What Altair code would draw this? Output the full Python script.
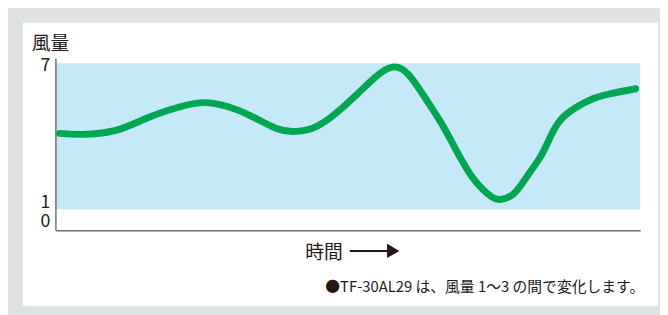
import altair as alt
import pandas as pd

# ---- data ----
time_pts = [0.7, 4.6, 10.3, 15.9, 21.5, 25.5, 29.4, 33.3, 37.8, 41.2, 44.6, 48.0,
            51.4, 54.7, 57.6, 60.3, 63.2, 66.0, 68.8, 71.6, 74.5, 76.2, 78.4,
            80.6, 82.9, 84.6, 86.3, 89.0, 91.9, 94.8, 99.2]
wind = [4.12, 4.08, 4.24, 4.77, 5.22, 5.38, 5.22, 4.85, 4.32, 4.20, 4.40, 4.95,
        5.68, 6.43, 6.84, 6.55, 5.58, 4.53, 3.31, 2.22, 1.53, 1.41, 1.65,
        2.34, 3.15, 3.96, 4.65, 5.18, 5.54, 5.74, 5.95]
band_low = [1]
band_high = [7]
y_tick_labels = ["0", "1", "7"]
y_tick_pos = [0.27, 1.04, 6.67]
y_title = "風量"
x_title = "時間"
note = "●TF-30AL29 は、風量 1〜3 の間で変化します。"

FONT = "Noto Sans CJK JP"
TXT = "#231815"
GREEN = "#00a651"
BLUE = "#c6e9f9"
GRAY = "#dfe3e0"
AXIS = "#707070"

xs = alt.Scale(domain=[0, 100], nice=False, zero=False)
ys = alt.Scale(domain=[0.15, 7.2], nice=False, zero=False)
ax = alt.Axis(labels=False, ticks=False, title=None, grid=False,
              domainColor=AXIS, domainWidth=1.5, zindex=1)

one = pd.DataFrame({"k": [0]})

panel = alt.Chart(one).mark_rect(color="white").encode(
    x=alt.value(-33), x2=alt.value(610), y=alt.value(-36), y2=alt.value(251)
)

band_df = pd.DataFrame({"x0": [0], "x1": [100], "lo": band_low, "hi": band_high})
band = alt.Chart(band_df).mark_rect(color=BLUE).encode(
    x=alt.X("x0:Q", scale=xs, axis=ax),
    x2="x1:Q",
    y=alt.Y("lo:Q", scale=ys, axis=ax),
    y2="hi:Q",
)

line_df = pd.DataFrame({"t": time_pts, "w": wind})
line = alt.Chart(line_df).mark_line(
    color=GREEN, strokeWidth=7, strokeCap="round", strokeJoin="round",
    interpolate="natural", clip=False
).encode(
    x=alt.X("t:Q", scale=xs, axis=ax),
    y=alt.Y("w:Q", scale=ys, axis=ax),
)

ytl_df = pd.DataFrame({"lab": y_tick_labels, "pos": y_tick_pos})
ytl = alt.Chart(ytl_df).mark_text(
    align="right", baseline="alphabetic", fontSize=18, font=FONT, color=TXT
).encode(x=alt.value(-5), y=alt.Y("pos:Q", scale=ys, axis=ax), text="lab:N")

title_df = pd.DataFrame({"s": [y_title]})
ytitle = alt.Chart(title_df).mark_text(
    align="left", baseline="middle", fontSize=19, font=FONT, color=TXT
).encode(x=alt.value(-24), y=alt.value(-14), text="s:N")

xt_df = pd.DataFrame({"s": [x_title]})
xtitle = alt.Chart(xt_df).mark_text(
    align="left", baseline="middle", fontSize=19, font=FONT, color=TXT
).encode(x=alt.value(253), y=alt.value(197), text="s:N")

arrow_line = alt.Chart(one).mark_rule(color=TXT, strokeWidth=2).encode(
    x=alt.value(298), x2=alt.value(340), y=alt.value(195)
)
arrow_head = alt.Chart(one).mark_point(
    shape="triangle-right", filled=True, color=TXT, opacity=1, size=210
).encode(x=alt.value(342), y=alt.value(195))

note_df = pd.DataFrame({"s": [note]})
note_t = alt.Chart(note_df).mark_text(
    align="right", baseline="middle", fontSize=15, font=FONT, color=TXT
).encode(x=alt.value(596), y=alt.value(232), text="s:N")

chart = alt.layer(
    panel, band, line, ytl, ytitle, xtitle, arrow_line, arrow_head, note_t
).properties(
    width=592, height=174,
    autosize=alt.AutoSizeParams(type="none"),
    padding={"left": 48, "top": 49, "right": 20, "bottom": 84},
    background=GRAY,
).configure_view(stroke=None)

chart.save("out.html", embed_options={"renderer": "svg", "actions": False})
